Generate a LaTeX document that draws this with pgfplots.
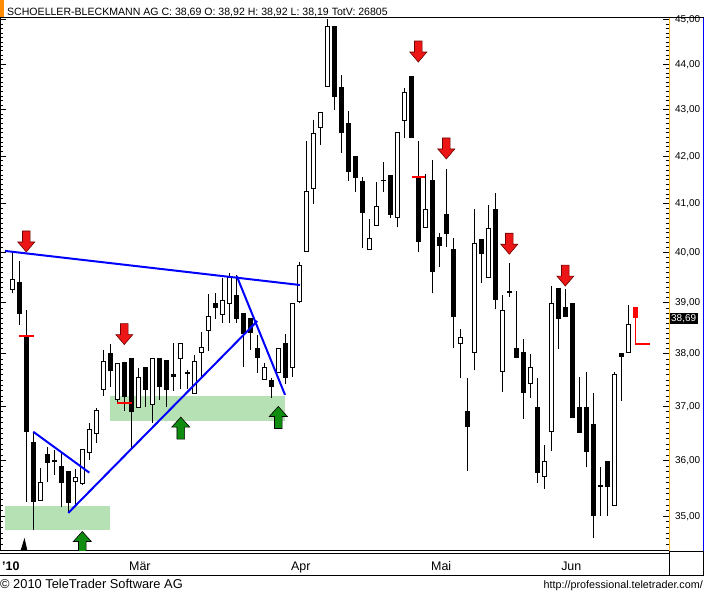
\documentclass[border=0pt]{standalone}
\usepackage{fontspec}
\setmainfont{Liberation Sans}
\usepackage{pgfplots}
\usepackage{pgfplotstable}
\pgfplotsset{compat=1.18}

\definecolor{boxgreen}{RGB}{182,225,180}
\definecolor{arrred}{RGB}{236,22,22}
\definecolor{arrredline}{RGB}{110,0,0}
\definecolor{arrgreen}{RGB}{16,140,16}
\definecolor{tlblue}{RGB}{0,0,255}
\definecolor{axorange}{RGB}{255,185,20}
\definecolor{titleorange}{RGB}{255,140,0}

\pgfdeclareplotmark{dnarrow}{%
  \pgfpathmoveto{\pgfpoint{0bp}{0bp}}%
  \pgfpathlineto{\pgfpoint{-8.5bp}{10bp}}%
  \pgfpathlineto{\pgfpoint{-3.8bp}{10bp}}%
  \pgfpathlineto{\pgfpoint{-3.8bp}{21bp}}%
  \pgfpathlineto{\pgfpoint{3.8bp}{21bp}}%
  \pgfpathlineto{\pgfpoint{3.8bp}{10bp}}%
  \pgfpathlineto{\pgfpoint{8.5bp}{10bp}}%
  \pgfpathclose
  \pgfusepathqfillstroke}
\pgfdeclareplotmark{uparrow}{%
  \pgfpathmoveto{\pgfpoint{0bp}{0bp}}%
  \pgfpathlineto{\pgfpoint{-9bp}{-10bp}}%
  \pgfpathlineto{\pgfpoint{-3.8bp}{-10bp}}%
  \pgfpathlineto{\pgfpoint{-3.8bp}{-22bp}}%
  \pgfpathlineto{\pgfpoint{3.8bp}{-22bp}}%
  \pgfpathlineto{\pgfpoint{3.8bp}{-10bp}}%
  \pgfpathlineto{\pgfpoint{9bp}{-10bp}}%
  \pgfpathclose
  \pgfusepathqfillstroke}
\pgfdeclareplotmark{smalltri}{%
  \pgfpathmoveto{\pgfpoint{0bp}{0bp}}%
  \pgfpathlineto{\pgfpoint{-4bp}{-13bp}}%
  \pgfpathlineto{\pgfpoint{3bp}{-13bp}}%
  \pgfpathclose
  \pgfusepathqfill}

\pgfplotsset{candle/.style={draw=black, line width=1bp, mark=none, line join=miter}}

\pgfplotstableread{
i O H L C
0 39.27 39.99 39.19 39.47
1 39.39 39.83 38.56 38.78
2 38.33 38.86 35.26 36.53
3 36.33 36.53 34.76 35.26
4 35.28 35.87 35.28 35.60
5 36.11 36.25 35.61 35.96
6 36.00 36.20 35.74 35.99
7 35.90 36.14 35.17 35.60
8 35.80 35.80 35.06 35.24
9 35.62 35.85 35.17 35.69
10 35.58 36.20 35.55 36.20
11 36.14 36.70 36.01 36.57
12 36.49 36.97 36.33 36.92
13 37.33 38.08 37.20 37.85
14 38.00 38.19 37.37 37.68
15 37.13 37.81 37.09 37.81
16 37.83 37.83 36.92 37.18
17 37.91 37.91 36.23 36.90
18 36.99 37.73 36.99 37.54
19 37.73 37.73 36.99 37.32
20 37.03 37.92 36.70 37.92
21 37.91 37.91 37.13 37.37
22 37.87 37.87 36.99 37.32
23 37.60 38.21 37.30 37.56
24 37.91 38.21 37.32 38.21
25 37.65 37.69 37.32 37.62
26 37.24 37.98 37.24 37.85
27 38.02 38.43 37.56 38.12
28 38.45 39.17 38.06 38.72
29 38.99 39.19 38.68 38.90
30 38.76 39.49 38.60 39.05
31 38.99 39.59 38.60 39.49
32 39.15 39.55 38.60 38.70
33 38.78 38.78 37.75 38.39
34 38.70 38.70 38.08 38.41
35 38.10 38.37 37.64 37.94
36 37.52 37.83 37.52 37.75
37 37.50 37.54 37.16 37.37
38 37.64 38.10 37.64 38.10
39 38.21 38.39 37.43 37.54
40 37.75 38.99 37.56 38.99
41 39.03 39.81 38.99 39.75
42 40.01 42.33 40.01 41.25
43 41.31 42.78 41.00 42.48
44 42.61 42.95 42.24 42.93
45 43.50 45.03 43.50 44.84
46 44.84 44.84 43.00 43.28
47 43.48 43.77 42.07 42.50
48 42.69 42.97 41.48 41.67
49 41.99 41.99 41.25 41.54
50 41.46 41.56 40.09 40.81
51 40.05 40.69 40.05 40.28
52 40.55 41.46 40.55 40.95
53 41.48 41.88 41.25 41.49
54 41.59 41.59 40.71 40.77
55 40.71 42.50 40.51 42.50
56 42.76 43.48 42.39 43.37
57 43.72 43.72 42.39 42.39
58 41.52 42.33 40.01 40.22
59 40.51 41.62 40.51 40.89
60 41.48 41.92 39.19 39.63
61 40.30 40.40 39.71 40.14
62 40.77 41.73 40.11 40.38
63 40.05 40.30 38.12 38.72
64 38.21 38.49 37.54 38.31
65 36.90 37.54 35.81 36.62
66 38.02 40.89 37.68 40.18
67 40.26 40.26 39.39 39.99
68 39.51 40.98 39.51 40.48
69 40.87 41.23 38.87 39.07
70 37.66 39.15 37.28 38.84
71 39.21 39.79 39.11 39.22
72 38.10 39.23 37.94 37.94
73 38.02 38.29 36.77 37.26
74 37.43 38.00 37.16 37.75
75 36.99 37.54 35.60 35.78
76 35.71 36.29 35.49 35.99
77 36.53 39.33 36.18 38.99
78 39.29 39.29 38.10 38.70
79 38.90 39.27 38.72 38.72
80 38.99 38.99 36.79 36.79
81 36.99 37.56 36.51 36.51
82 36.99 37.66 35.88 36.16
83 36.66 37.26 34.62 35.01
84 35.53 35.88 35.01 35.54
85 35.98 35.98 35.01 35.53
86 35.19 37.66 35.19 37.60
87 38.00 38.00 37.11 37.96
88 38.02 38.95 38.02 38.56
}\candles

\begin{document}
\begin{tikzpicture}
\begin{axis}[
  at={(0,0)}, anchor=south west,
  scale only axis, width=669bp, height=533bp,
  xmin=-1.757, xmax=93.81,
  ymode=log, ymin=34.39, ymax=45.046,
  axis line style={line width=1bp, black},
  ytick={35,36,37,38,39,40,41,42,43,44,45},
  yticklabels={{35,00},{36,00},{37,00},{38,00},{39,00},{40,00},{41,00},{42,00},{43,00},{44,00},{45,00}},
  minor ytick={34.4,34.5,34.6,34.7,34.8,34.9,35,35.1,35.2,35.3,35.4,35.5,35.6,35.7,35.8,35.9,36,36.1,36.2,36.3,36.4,36.5,36.6,36.7,36.8,36.9,37,37.1,37.2,37.3,37.4,37.5,37.6,37.7,37.8,37.9,38,38.1,38.2,38.3,38.4,38.5,38.6,38.7,38.8,38.9,39,39.1,39.2,39.3,39.4,39.5,39.6,39.7,39.8,39.9,40,40.1,40.2,40.3,40.4,40.5,40.6,40.7,40.8,40.9,41,41.1,41.2,41.3,41.4,41.5,41.6,41.7,41.8,41.9,42,42.1,42.2,42.3,42.4,42.5,42.6,42.7,42.8,42.9,43,43.1,43.2,43.3,43.4,43.5,43.6,43.7,43.8,43.9,44,44.1,44.2,44.3,44.4,44.5,44.6,44.7,44.8,44.9,45},
  ytick pos=both,
  yticklabel pos=right,
  tick align=inside,
  major tick length=6bp, minor tick length=3bp,
  ytick style={black, line width=0.8bp},
  xtick={-1.47,16.67,39.81,59.81,78.39},
  xticklabels={\textbf{'10},Mär,Apr,Mai,Jun},
  xtick style={draw=none},
  xticklabel style={anchor=base west, inner sep=0pt, yshift=-20bp, font=\fontsize{12.5}{14}\selectfont},
  yticklabel style={anchor=west, inner sep=0pt, xshift=6bp, font=\fontsize{10}{12}\selectfont},
  clip marker paths=true,
]
% support zones
\addplot[draw=none, fill=boxgreen, forget plot] coordinates {(-1.04,34.75) (13.96,34.75) (13.96,35.19) (-1.04,35.19)} -- cycle;
\addplot[draw=none, fill=boxgreen, forget plot] coordinates {(13.96,36.74) (38.96,36.74) (38.96,37.19) (13.96,37.19)} -- cycle;

% candles
\pgfplotstablegetrowsof{\candles}
\pgfmathtruncatemacro{\nrows}{\pgfplotsretval-1}
\pgfplotsforeachungrouped \r in {0,...,\nrows}{%
  \pgfplotstablegetelem{\r}{i}\of\candles \edef\ci{\pgfplotsretval}%
  \pgfplotstablegetelem{\r}{O}\of\candles \edef\co{\pgfplotsretval}%
  \pgfplotstablegetelem{\r}{H}\of\candles \edef\ch{\pgfplotsretval}%
  \pgfplotstablegetelem{\r}{L}\of\candles \edef\cl{\pgfplotsretval}%
  \pgfplotstablegetelem{\r}{C}\of\candles \edef\cc{\pgfplotsretval}%
  \pgfmathsetmacro{\xl}{\ci-0.3}%
  \pgfmathsetmacro{\xr}{\ci+0.3}%
  \ifdim\cc pt<\co pt \def\bfill{black}\else\def\bfill{white}\fi
  \edef\temp{%
    \noexpand\addplot[candle, forget plot] coordinates {(\ci,\cl) (\ci,\ch)};%
    \noexpand\addplot[candle, fill=\bfill, forget plot] coordinates {(\xl,\co) (\xr,\co) (\xr,\cc) (\xl,\cc)} -- cycle;%
  }\temp
}

% current (partial) candle in red
\addplot[draw=none, fill=red, forget plot] coordinates {(88.72,38.92) (89.32,38.92) (89.32,38.69) (88.72,38.69)} -- cycle;
\addplot[red, line width=1.5bp, forget plot] coordinates {(89.0,38.69) (89.0,38.19) (91.1,38.19)};

% red stop marks
\addplot[red, line width=2bp, forget plot] coordinates {(0.96,38.35) (3.1,38.35)};
\addplot[red, line width=2bp, forget plot] coordinates {(14.96,37.07) (17.1,37.07)};
\addplot[red, line width=2bp, forget plot] coordinates {(57.05,41.56) (58.96,41.56)};

% trend lines
\addplot[tlblue, line width=2bp, forget plot] coordinates {(-1.04,40.03) (41.1,39.35)};
\addplot[tlblue, line width=2bp, forget plot] coordinates {(3.0,36.53) (11.0,35.78)};
\addplot[tlblue, line width=2bp, forget plot] coordinates {(8.0,35.06) (35.0,38.64)};
\addplot[tlblue, line width=2bp, forget plot] coordinates {(32.06,39.53) (38.96,37.22)};

% signal arrows
\addplot[only marks, mark=dnarrow, mark options={fill=arrred, draw=arrredline, line width=0.6bp}, forget plot]
  coordinates {(2,40.01) (16,38.18) (58,44.05) (62,41.94) (71,39.97) (79,39.33)};
\addplot[only marks, mark=uparrow, mark options={fill=arrgreen, draw=black, line width=0.6bp}, forget plot]
  coordinates {(10,34.73) (24.07,36.80) (38,37.00)};
\addplot[only marks, mark=smalltri, mark options={fill=black, draw=none}, forget plot]
  coordinates {(1.74,34.62)};

\coordinate (cp) at (axis cs:93.81,38.69);
\end{axis}

% title bar
\fill[titleorange] (0,534bp) rectangle (4bp,551bp);
\node[anchor=base west, inner sep=0pt, font=\fontsize{10.6}{12}\selectfont] at (7bp,535bp)
  {SCHOELLER-BLECKMANN AG C: 38,69 O: 38,92 H: 38,92 L: 38,19 TotV: 26805};

% price-axis column
\draw[black, line width=1bp] (669bp,533bp) -- (704bp,533bp);
\draw[axorange, line width=1.2bp] (669.5bp,0) -- (669.5bp,533bp);
\draw[tlblue, line width=1bp] (703.5bp,0) -- (703.5bp,533bp);
\draw[black, line width=1bp] (669bp,0) -- (704bp,0);
\draw[black, line width=1bp] (0,-2.5bp) -- (669bp,-2.5bp);

% current price tag
\node[fill=black, text=white, anchor=west, inner xsep=1.5bp, inner ysep=1.5bp,
      font=\fontsize{10}{12}\selectfont] at ([xshift=0.5bp]cp) {38,69};

% date axis box and footer
\draw[black, line width=1bp] (669bp,0) -- (669bp,-24bp);
\draw[black, line width=1bp] (703.5bp,0) -- (703.5bp,-24bp);
\draw[black, line width=1bp] (0,-24bp) -- (704bp,-24bp);
\node[anchor=base west, inner sep=0pt, font=\fontsize{12.9}{15}\selectfont] at (0,-37bp)
  {© 2010 TeleTrader Software AG};
\node[anchor=base east, inner sep=0pt, font=\fontsize{10.8}{12}\selectfont] at (703bp,-37bp)
  {http://professional.teletrader.com/};

\pgfresetboundingbox
\path[use as bounding box] (0,-41bp) rectangle (704bp,551bp);
\end{tikzpicture}
\end{document}
